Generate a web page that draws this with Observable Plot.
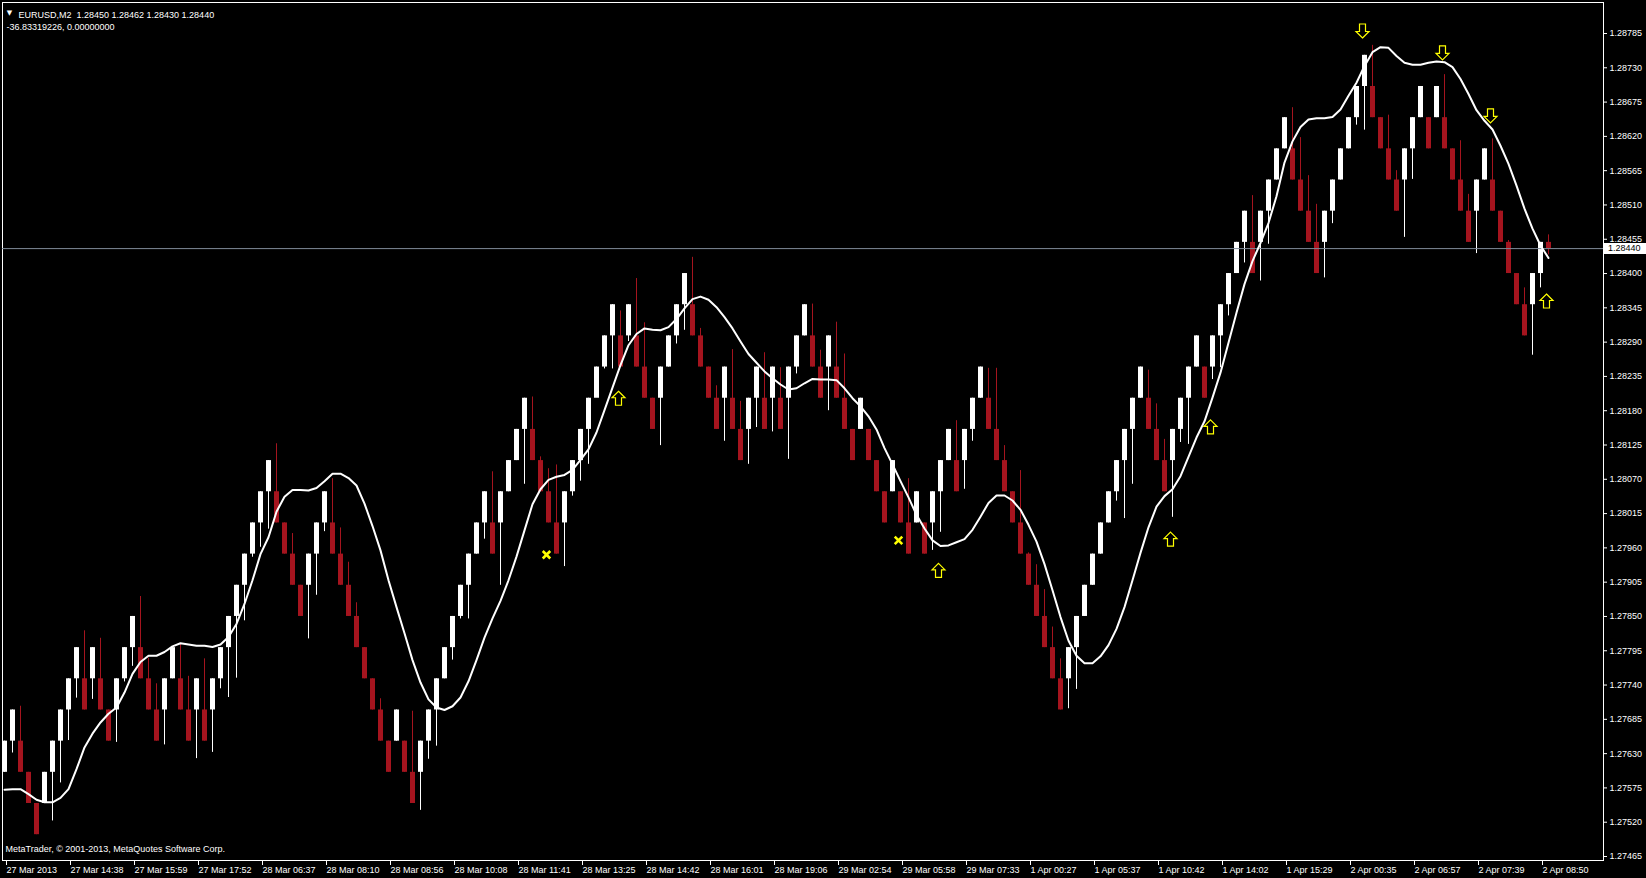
<!DOCTYPE html>
<html><head><meta charset="utf-8">
<script src="https://cdn.jsdelivr.net/npm/d3@7"></script>
<script src="https://cdn.jsdelivr.net/npm/@observablehq/plot@0.6"></script>
<style>
html,body{margin:0;padding:0;background:#000;overflow:hidden}
#chart svg{display:block}
</style></head><body><div id="chart"></div>
<script>
// ---- Renko bricks (EURUSD, M2) ----
const barOpen = [
1.2760,1.2765,1.2765,1.2760,1.2755,1.2755,1.2760,1.2765,1.2770,1.2775,
1.2775,1.2775,1.2775,1.2770,1.2770,1.2775,1.2780,1.2780,1.2775,1.2770,
1.2770,1.2775,1.2775,1.2770,1.2770,1.2770,1.2770,1.2775,1.2780,1.2785,
1.2790,1.2795,1.2800,1.2805,1.2805,1.2800,1.2795,1.2790,1.2790,1.2795,
1.2800,1.2800,1.2795,1.2790,1.2785,1.2780,1.2775,1.2770,1.2765,1.2765,
1.2765,1.2760,1.2760,1.2765,1.2770,1.2775,1.2780,1.2785,1.2790,1.2795,
1.2800,1.2800,1.2800,1.2805,1.2810,1.2815,1.2815,1.2810,1.2805,1.2800,
1.2800,1.2805,1.2810,1.2815,1.2820,1.2825,1.2830,1.2830,1.2830,1.2830,
1.2825,1.2820,1.2820,1.2825,1.2830,1.2835,1.2835,1.2830,1.2825,1.2820,
1.2820,1.2820,1.2815,1.2815,1.2820,1.2820,1.2820,1.2820,1.2820,1.2825,
1.2830,1.2830,1.2825,1.2825,1.2825,1.2820,1.2815,1.2815,1.2815,1.2810,
1.2805,1.2805,1.2805,1.2800,1.2800,1.2800,1.2800,1.2805,1.2810,1.2810,
1.2810,1.2815,1.2820,1.2820,1.2815,1.2810,1.2805,1.2800,1.2795,1.2790,
1.2785,1.2780,1.2775,1.2775,1.2780,1.2785,1.2790,1.2795,1.2800,1.2805,
1.2810,1.2815,1.2820,1.2820,1.2815,1.2810,1.2810,1.2815,1.2820,1.2825,
1.2825,1.2825,1.2830,1.2835,1.2840,1.2845,1.2845,1.2845,1.2850,1.2855,
1.2860,1.2860,1.2855,1.2850,1.2845,1.2845,1.2850,1.2855,1.2860,1.2865,
1.2870,1.2870,1.2865,1.2860,1.2855,1.2855,1.2860,1.2865,1.2865,1.2865,
1.2865,1.2860,1.2855,1.2850,1.2850,1.2855,1.2855,1.2850,1.2845,1.2840,
1.2835,1.2835,1.2840,1.28450];
const barClose = [
1.2765,1.2770,1.2760,1.2755,1.2750,1.2760,1.2765,1.2770,1.2775,1.2780,
1.2770,1.2780,1.2770,1.2765,1.2775,1.2780,1.2785,1.2775,1.2770,1.2765,
1.2775,1.2780,1.2770,1.2765,1.2775,1.2765,1.2775,1.2780,1.2785,1.2790,
1.2795,1.2800,1.2805,1.2810,1.2800,1.2795,1.2790,1.2785,1.2795,1.2800,
1.2805,1.2795,1.2790,1.2785,1.2780,1.2775,1.2770,1.2765,1.2760,1.2770,
1.2760,1.2755,1.2765,1.2770,1.2775,1.2780,1.2785,1.2790,1.2795,1.2800,
1.2805,1.2795,1.2805,1.2810,1.2815,1.2820,1.2810,1.2805,1.2800,1.2795,
1.2805,1.2810,1.2815,1.2820,1.2825,1.2830,1.2835,1.2825,1.2835,1.2825,
1.2820,1.2815,1.2825,1.2830,1.2835,1.2840,1.2830,1.2825,1.2820,1.2815,
1.2825,1.2815,1.2810,1.2820,1.2825,1.2815,1.2825,1.2815,1.2825,1.2830,
1.2835,1.2825,1.2820,1.2830,1.2820,1.2815,1.2810,1.2820,1.2810,1.2805,
1.2800,1.2810,1.2800,1.2795,1.2805,1.2795,1.2805,1.2810,1.2815,1.2805,
1.2815,1.2820,1.2825,1.2815,1.2810,1.2805,1.2800,1.2795,1.2790,1.2785,
1.2780,1.2775,1.2770,1.2780,1.2785,1.2790,1.2795,1.2800,1.2805,1.2810,
1.2815,1.2820,1.2825,1.2815,1.2810,1.2805,1.2815,1.2820,1.2825,1.2830,
1.2820,1.2830,1.2835,1.2840,1.2845,1.2850,1.2840,1.2850,1.2855,1.2860,
1.2865,1.2855,1.2850,1.2845,1.2840,1.2850,1.2855,1.2860,1.2865,1.2870,
1.2875,1.2865,1.2860,1.2855,1.2850,1.2860,1.2865,1.2870,1.2860,1.2870,
1.2860,1.2855,1.2850,1.2845,1.2855,1.2860,1.2850,1.2845,1.2840,1.2835,
1.2830,1.2840,1.2845,1.28440];
const barHigh = [
1.2765,1.2770,1.27706,1.2760,1.2755,1.2760,1.2765,1.2770,1.2775,1.2780,
1.27827,1.2780,1.27815,1.2770,1.2775,1.2780,1.2785,1.27882,1.27783,1.27742,
1.2775,1.2780,1.27806,1.27754,1.2775,1.27782,1.2775,1.2780,1.2785,1.2790,
1.2795,1.2800,1.2805,1.2810,1.28127,1.2800,1.27983,1.2790,1.2795,1.2800,
1.2805,1.28071,1.27992,1.27937,1.27872,1.2780,1.2775,1.27718,1.2765,1.2770,
1.2765,1.27698,1.2765,1.2770,1.2775,1.2780,1.2785,1.2790,1.2795,1.2800,
1.2805,1.28082,1.2805,1.2810,1.2815,1.2820,1.28202,1.28106,1.28087,1.28093,
1.2805,1.2810,1.2815,1.2820,1.2825,1.2830,1.2835,1.28340,1.2835,1.28392,
1.28321,1.2820,1.2825,1.2830,1.2835,1.2840,1.28426,1.28312,1.2825,1.28220,
1.2825,1.28278,1.28195,1.2820,1.2825,1.28273,1.2825,1.28249,1.2825,1.2830,
1.2835,1.28351,1.28277,1.2830,1.28322,1.28271,1.2815,1.2820,1.2815,1.2810,
1.2805,1.2810,1.2805,1.28071,1.2805,1.2800,1.2805,1.2810,1.2815,1.28164,
1.2815,1.2820,1.2825,1.28248,1.28248,1.28124,1.2805,1.28084,1.27952,1.27933,
1.27893,1.27833,1.27782,1.2780,1.2785,1.2790,1.2795,1.2800,1.2805,1.2810,
1.2815,1.2820,1.2825,1.28245,1.28191,1.28134,1.2815,1.2820,1.2825,1.2830,
1.2825,1.2830,1.2835,1.2840,1.2845,1.2850,1.28525,1.2850,1.2855,1.2860,
1.2865,1.28666,1.28618,1.28557,1.28511,1.2850,1.2855,1.2860,1.2865,1.2870,
1.2875,1.28766,1.2865,1.28654,1.28565,1.2860,1.2865,1.2870,1.2865,1.2870,
1.28719,1.2860,1.28613,1.28527,1.2855,1.2860,1.28616,1.2850,1.28453,1.2840,
1.28377,1.2840,1.2845,1.28462];
const barLow = [
1.2760,1.27631,1.2760,1.2755,1.2750,1.2755,1.27522,1.27583,1.27651,1.27719,
1.2770,1.27717,1.2770,1.2765,1.27648,1.27745,1.27770,1.2775,1.2770,1.2765,
1.27644,1.2775,1.2770,1.2765,1.27622,1.2765,1.27632,1.27734,1.27720,1.27751,
1.27843,1.27945,1.27961,1.27990,1.2800,1.2795,1.2790,1.2785,1.27814,1.27884,
1.27986,1.2795,1.2790,1.2785,1.2780,1.2775,1.2770,1.2765,1.2760,1.2765,
1.2760,1.2755,1.27539,1.27621,1.27642,1.2775,1.27780,1.27846,1.27846,1.2795,
1.27974,1.2795,1.27900,1.2805,1.2810,1.28062,1.2810,1.2805,1.2800,1.2795,
1.27930,1.28043,1.28067,1.28094,1.28217,1.28247,1.28247,1.2825,1.28291,1.2825,
1.2820,1.2815,1.28124,1.2825,1.28287,1.28309,1.2830,1.2825,1.2820,1.2815,
1.28131,1.2815,1.2810,1.28094,1.28153,1.2815,1.28146,1.2815,1.28102,1.28239,
1.2830,1.2825,1.2820,1.28180,1.2820,1.2815,1.2810,1.2815,1.2810,1.2805,
1.2800,1.2805,1.2800,1.2795,1.2800,1.2795,1.27956,1.27985,1.2810,1.2805,
1.28054,1.28131,1.2820,1.2815,1.2810,1.2805,1.2800,1.2795,1.2790,1.2785,
1.2780,1.2775,1.2770,1.27702,1.27733,1.2785,1.2790,1.2795,1.2800,1.28035,
1.28007,1.28062,1.2820,1.2815,1.2810,1.2805,1.28009,1.28129,1.28126,1.2825,
1.2820,1.28230,1.28249,1.28332,1.2840,1.28417,1.2840,1.28388,1.28447,1.2855,
1.2860,1.2855,1.2850,1.2845,1.2840,1.28393,1.28480,1.2855,1.2860,1.28638,
1.28630,1.2865,1.2860,1.2855,1.2850,1.28458,1.28551,1.2865,1.2860,1.2865,
1.2860,1.2855,1.2850,1.2845,1.28432,1.2855,1.2850,1.2845,1.2840,1.2835,
1.2830,1.28269,1.28377,1.28430];

// ---- smoothed moving average (white line) ----
const maValues = [
1.27572,1.27573,1.27573,1.27565,1.27556,1.27552,1.27552,1.27559,1.27573,1.27605,
1.27640,1.27662,1.27680,1.27694,1.27704,1.27728,1.27758,1.27777,1.27787,1.27787,
1.27793,1.27802,1.27807,1.27805,1.27803,1.27803,1.27801,1.27805,1.27817,1.27838,
1.27870,1.27908,1.27950,1.27977,1.28018,1.28042,1.28053,1.28053,1.28052,1.28056,
1.28067,1.28079,1.28079,1.28072,1.28060,1.28031,1.27995,1.27956,1.27908,1.27865,
1.27823,1.27780,1.27744,1.27717,1.27704,1.27700,1.27706,1.27720,1.27746,1.27780,
1.27816,1.27847,1.27875,1.27908,1.27946,1.27988,1.28030,1.28054,1.28069,1.28074,
1.28077,1.28085,1.28101,1.28118,1.28145,1.28181,1.28217,1.28253,1.28285,1.28303,
1.28312,1.28310,1.28309,1.28314,1.28327,1.28344,1.28359,1.28363,1.28358,1.28346,
1.28330,1.28312,1.28291,1.28271,1.28257,1.28243,1.28232,1.28222,1.28214,1.28216,
1.28224,1.28231,1.28230,1.28230,1.28229,1.28216,1.28200,1.28187,1.28171,1.28150,
1.28120,1.28094,1.28067,1.28041,1.28013,1.27991,1.27972,1.27963,1.27964,1.27969,
1.27974,1.27989,1.28010,1.28032,1.28044,1.28044,1.28036,1.28021,1.27997,1.27970,
1.27934,1.27892,1.27849,1.27811,1.27787,1.27775,1.27775,1.27786,1.27804,1.27830,
1.27865,1.27908,1.27952,1.27993,1.28026,1.28043,1.28054,1.28075,1.28106,1.28137,
1.28163,1.28201,1.28241,1.28289,1.28337,1.28383,1.28420,1.28449,1.28481,1.28524,
1.28578,1.28612,1.28635,1.28647,1.28649,1.28649,1.28651,1.28663,1.28685,1.28706,
1.28733,1.28755,1.28763,1.28762,1.28749,1.28738,1.28735,1.28735,1.28738,1.28740,
1.28739,1.28731,1.28712,1.28688,1.28662,1.28645,1.28631,1.28605,1.28576,1.28541,
1.28504,1.28472,1.28445,1.28425];

// ---- signal objects ----
const upArrowBars = [77, 117, 146, 151, 193];
const upArrowPrices = [1.28200, 1.27924, 1.27974, 1.28154, 1.28356];
const downArrowBars = [170, 180, 186];
const downArrowPrices = [1.28789, 1.28754, 1.28653];
const crossBars = [68, 112];
const crossPrices = [1.27949, 1.27972];

// ---- axes ----
const priceTicks = [1.28785,1.28730,1.28675,1.28620,1.28565,1.28510,1.28455,1.28400,1.28345,1.28290,
  1.28235,1.28180,1.28125,1.28070,1.28015,1.27960,1.27905,1.27850,1.27795,1.27740,
  1.27685,1.27630,1.27575,1.27520,1.27465];
const timeTickBars = [0,8,16,24,32,40,48,56,64,72,80,88,96,104,112,120,128,136,144,152,160,168,176,184,192];
const timeTickLabels = ["27 Mar 2013","27 Mar 14:38","27 Mar 15:59","27 Mar 17:52","28 Mar 06:37","28 Mar 08:10",
  "28 Mar 08:56","28 Mar 10:08","28 Mar 11:41","28 Mar 13:25","28 Mar 14:42","28 Mar 16:01","28 Mar 19:06",
  "29 Mar 02:54","29 Mar 05:58","29 Mar 07:33","1 Apr 00:27","1 Apr 05:37","1 Apr 10:42","1 Apr 14:02",
  "1 Apr 15:29","2 Apr 00:35","2 Apr 06:57","2 Apr 07:39","2 Apr 08:50"];
const bidPrice = [1.28440];
const symbolName = "EURUSD,M2";
const indicatorValues = ["-36.83319226", "0.00000000"];

// ---- build tables ----
const bars = barOpen.map((o, i) => ({bar: i, open: o, close: barClose[i], high: barHigh[i], low: barLow[i]}));
const upBars = bars.filter(d => d.close >= d.open);
const downBars = bars.filter(d => d.close < d.open);
const maData = maValues.map((v, i) => ({bar: i, ma: v}));
const upArrows = upArrowBars.map((b, i) => ({bar: b, price: upArrowPrices[i]}));
const downArrows = downArrowBars.map((b, i) => ({bar: b, price: downArrowPrices[i]}));
const crosses = crossBars.map((b, i) => ({bar: b, price: crossPrices[i]}));
const last = bars[bars.length - 1];
const fmt = v => v.toFixed(5);
const header = `${symbolName}\u00a0\u00a0${fmt(last.open)} ${fmt(last.high)} ${fmt(last.low)} ${fmt(last.close)}`;

// hollow block-arrow symbols (MetaTrader style)
const arrowUp = {draw(ctx) {
  ctx.moveTo(0, -7); ctx.lineTo(6.5, -0.5); ctx.lineTo(3, -0.5); ctx.lineTo(3, 7);
  ctx.lineTo(-3, 7); ctx.lineTo(-3, -0.5); ctx.lineTo(-6.5, -0.5); ctx.closePath();
}};
const arrowDown = {draw(ctx) {
  ctx.moveTo(0, 7); ctx.lineTo(6.5, 0.5); ctx.lineTo(3, 0.5); ctx.lineTo(3, -7);
  ctx.lineTo(-3, -7); ctx.lineTo(-3, 0.5); ctx.lineTo(-6.5, 0.5); ctx.closePath();
}};

const RED = "#a5141e";
const FONT = "'Liberation Sans', Arial, sans-serif";

const chart = Plot.plot({
  width: 1646, height: 878,
  marginLeft: 2, marginTop: 2, marginRight: 43, marginBottom: 18,
  style: {background: "#000", color: "#fff", fontFamily: FONT, fontSize: "9px"},
  x: {domain: [0, 193], range: [4, 1548], label: null},
  y: {domain: [1.27465, 1.28785], range: [856, 33], label: null},
  marks: [
    Plot.frame({stroke: "#fff"}),
    Plot.axisY(priceTicks, {anchor: "right", tickSize: 3, tickPadding: 3, tickFormat: fmt, label: null, fill: "#fff", stroke: "#fff"}),
    Plot.axisX(timeTickBars, {anchor: "bottom", tickSize: 5, tickPadding: 1, textAnchor: "start", dx: 2,
      tickFormat: d => timeTickLabels[timeTickBars.indexOf(d)], label: null, fill: "#fff", stroke: "#fff"}),
    // wicks
    Plot.ruleX(upBars, {x: "bar", y1: "low", y2: "high", stroke: "#fff", strokeWidth: 1}),
    Plot.ruleX(downBars, {x: "bar", y1: "low", y2: "high", stroke: RED, strokeWidth: 1}),
    // bodies
    Plot.ruleX(upBars, {x: "bar", y1: "open", y2: "close", stroke: "#fff", strokeWidth: 5, strokeLinecap: "butt"}),
    Plot.ruleX(downBars, {x: "bar", y1: "open", y2: "close", stroke: RED, strokeWidth: 5, strokeLinecap: "butt"}),
    // bid line
    Plot.ruleY(bidPrice, {stroke: "#7f8a99", strokeWidth: 1}),
    // MA line
    Plot.line(maData, {x: "bar", y: "ma", stroke: "#fff", strokeWidth: 2}),
    // signals
    Plot.dot(upArrows, {x: "bar", y: "price", symbol: arrowUp, r: 5, fill: "#000", stroke: "#ffff00", strokeWidth: 1.2, dx: -2}),
    Plot.dot(downArrows, {x: "bar", y: "price", symbol: arrowDown, r: 5, fill: "#000", stroke: "#ffff00", strokeWidth: 1.2, dx: -2}),
    Plot.dot(crosses, {x: "bar", y: "price", symbol: "times", r: 3.5, stroke: "#ffff00", strokeWidth: 2.6, dx: -2}),
    // header texts
    Plot.text(["\u25bc"], {frameAnchor: "top-left", dx: 7, dy: 8, textAnchor: "middle", fontSize: 7, fill: "#fff", fontFamily: "DejaVu Sans"}),
    Plot.text([header], {frameAnchor: "top-left", dx: 16, dy: 9, textAnchor: "start", fill: "#fff"}),
    Plot.text([indicatorValues.join(", ")], {frameAnchor: "top-left", dx: 4, dy: 21, textAnchor: "start", fill: "#fff"}),
    Plot.text(["MetaTrader, \u00a9 2001-2013, MetaQuotes Software Corp."], {frameAnchor: "bottom-left", dx: 3, dy: -9, textAnchor: "start", fill: "#fff"})
  ]
});
document.getElementById("chart").appendChild(chart);

// current bid price label box on the price axis (positioned with the plot's own y scale)
const ys = chart.scale("y");
const yy = Math.round(ys.apply(bidPrice[0]));
const g = d3.select(chart).append("g").attr("text-anchor", "start");
g.append("rect").attr("x", 1604).attr("y", yy - 5).attr("width", 42).attr("height", 11).attr("fill", "#fff");
g.append("text").attr("x", 1608).attr("y", yy + 0.5).attr("dominant-baseline", "middle")
  .attr("fill", "#000").attr("font-size", 9).attr("font-family", FONT).text(fmt(bidPrice[0]));
</script>
</body></html>
